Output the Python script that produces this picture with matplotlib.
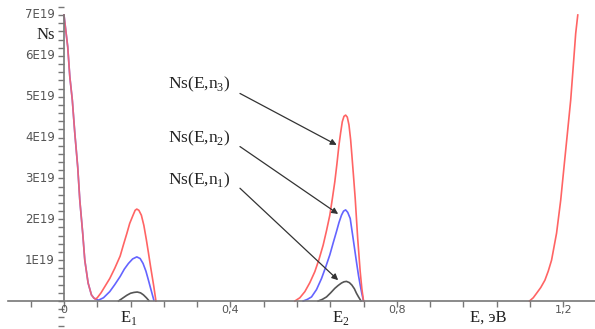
import numpy as np
import matplotlib.pyplot as plt
from matplotlib.ticker import MultipleLocator

# energies in eV, Ns in units of 1E19
left_x = [0.0, 0.009, 0.014, 0.020, 0.026, 0.033, 0.038, 0.045, 0.050, 0.058, 0.066, 0.072, 0.076]
left_y = [7.0, 6.22, 5.49, 4.92, 4.11, 3.28, 2.47, 1.66, 1.00, 0.44, 0.15, 0.07, 0.05]

red_e1_x = [0.076, 0.080, 0.089, 0.098, 0.110, 0.122, 0.135, 0.143, 0.151, 0.158, 0.166, 0.171,
            0.175, 0.180, 0.186, 0.192, 0.198, 0.203, 0.208, 0.212, 0.216, 0.221]
red_e1_y = [0.05, 0.08, 0.2, 0.35, 0.55, 0.8, 1.1, 1.38, 1.65, 1.9, 2.1, 2.22,
            2.25, 2.22, 2.1, 1.85, 1.5, 1.18, 0.85, 0.6, 0.35, 0.0]

blue_e1_x = [0.076, 0.083, 0.095, 0.110, 0.122, 0.135, 0.145, 0.155, 0.165, 0.175, 0.183,
             0.190, 0.197, 0.203, 0.208, 0.212, 0.216]
blue_e1_y = [0.05, 0.02, 0.08, 0.23, 0.40, 0.60, 0.78, 0.92, 1.03, 1.08, 1.04,
             0.92, 0.73, 0.51, 0.32, 0.17, 0.02]

black_e1_x = [0.131, 0.141, 0.151, 0.160, 0.168, 0.176, 0.184, 0.191, 0.198, 0.204]
black_e1_y = [0.0, 0.07, 0.14, 0.19, 0.21, 0.22, 0.20, 0.15, 0.08, 0.01]

red_e2_x = [0.555, 0.567, 0.579, 0.591, 0.603, 0.613, 0.623, 0.631, 0.639, 0.645, 0.651, 0.656,
            0.661, 0.665, 0.669, 0.673, 0.677, 0.681, 0.685, 0.689, 0.692, 0.696, 0.700, 0.706,
            0.712, 0.716, 0.720]
red_e2_y = [0.0, 0.08, 0.23, 0.45, 0.72, 1.02, 1.37, 1.72, 2.1, 2.5, 2.92, 3.35,
            3.82, 4.12, 4.39, 4.52, 4.55, 4.5, 4.31, 3.95, 3.57, 3.05, 2.51, 1.53,
            0.72, 0.3, 0.0]

blue_e2_x = [0.575, 0.585, 0.595, 0.607, 0.619, 0.629, 0.639, 0.647, 0.655, 0.661, 0.667,
             0.672, 0.677, 0.682, 0.688, 0.695, 0.703, 0.708, 0.712, 0.716, 0.720]
blue_e2_y = [0.0, 0.04, 0.1, 0.28, 0.55, 0.83, 1.13, 1.42, 1.7, 1.92, 2.1,
             2.2, 2.23, 2.17, 2.02, 1.53, 0.96, 0.62, 0.39, 0.18, 0.0]

black_e2_x = [0.611, 0.621, 0.631, 0.641, 0.651, 0.659, 0.667, 0.673, 0.679, 0.686, 0.692,
              0.698, 0.703, 0.708, 0.714]
black_e2_y = [0.0, 0.04, 0.1, 0.2, 0.31, 0.38, 0.44, 0.47, 0.48, 0.45, 0.39,
              0.3, 0.19, 0.1, 0.0]

right_x = [1.119, 1.128, 1.136, 1.146, 1.156, 1.164, 1.172, 1.184, 1.194, 1.202, 1.210,
           1.218, 1.224, 1.230, 1.235]
right_y = [0.0, 0.08, 0.19, 0.33, 0.51, 0.73, 1.0, 1.66, 2.47, 3.29, 4.1,
           4.92, 5.73, 6.55, 7.0]

x_tick_vals = [0, 0.4, 0.8, 1.2]
x_tick_labels = ["0", "0,4", "0,8", "1,2"]
y_tick_vals = [1, 2, 3, 4, 5, 6, 7]
y_tick_labels = [f"{v}E19" for v in y_tick_vals]

RED = '#ff6464'
BLUE = '#6464ff'
BLACK = '#555555'
serif = ['Liberation Serif', 'DejaVu Serif']
plt.rcParams['mathtext.fontset'] = 'custom'
plt.rcParams['mathtext.rm'] = 'Liberation Serif'

fig = plt.figure(figsize=(5.95, 3.29), dpi=100)
ax = fig.add_axes([0, 0, 1, 1])
ax.set_xlim(-0.1538, 1.2764)
ax.set_ylim(-0.685, 7.367)

lw = 1.2
ax.plot(left_x, left_y, color=BLUE, lw=lw)
ax.plot(left_x, left_y, color=RED, lw=lw, alpha=0.85)
ax.plot(black_e1_x, black_e1_y, color=BLACK, lw=lw)
ax.plot(blue_e1_x, blue_e1_y, color=BLUE, lw=lw)
ax.plot(red_e1_x, red_e1_y, color=RED, lw=lw)
ax.plot(black_e2_x, black_e2_y, color=BLACK, lw=lw)
ax.plot(blue_e2_x, blue_e2_y, color=BLUE, lw=lw)
ax.plot(red_e2_x, red_e2_y, color=RED, lw=lw)
ax.plot(right_x, right_y, color=RED, lw=lw)

for s in ['top', 'right']:
    ax.spines[s].set_visible(False)
ax.spines['left'].set_position(('data', 0))
ax.spines['bottom'].set_position(('data', 0))
ax.spines['left'].set_bounds(0, 7)
ax.spines['bottom'].set_bounds(-0.135, 1.2764)
for s in ['left', 'bottom']:
    ax.spines[s].set_color('#777777')
    ax.spines[s].set_linewidth(1.2)

ax.xaxis.set_major_locator(MultipleLocator(0.08))
ax.xaxis.set_major_formatter(plt.NullFormatter())
ax.tick_params(axis='x', which='major', direction='out', length=4, width=1, color='#777777')
ax.yaxis.set_major_locator(MultipleLocator(0.2))
ax.yaxis.set_major_formatter(plt.NullFormatter())
ax.tick_params(axis='y', which='major', direction='out', length=4, width=1, color='#777777')

for v, lab in zip(x_tick_vals, x_tick_labels):
    ax.text(v, -0.22, lab, ha='center', va='center', fontsize=8, color='#555555')
for v, lab in zip(y_tick_vals, y_tick_labels):
    ax.text(-0.022, v, lab, ha='right', va='center', fontsize=8.5, color='#555555')

ax.text(-0.022, 6.5, "Ns", ha='right', va='center', fontsize=12, family=serif, color='#222222')
ax.text(0.155, -0.42, "E$_1$", ha='center', va='center', fontsize=12, family=serif, color='#222222')
ax.text(0.665, -0.42, "E$_2$", ha='center', va='center', fontsize=12, family=serif, color='#222222')
ax.text(1.02, -0.40, "E, эВ", ha='center', va='center', fontsize=12, family=serif, color='#222222')

labels = ["Ns(E,n$_3$)", "Ns(E,n$_2$)", "Ns(E,n$_1$)"]
text_y = [5.29, 3.99, 2.96]
arrow_start = [(0.423, 5.08), (0.423, 3.78), (0.423, 2.76)]
arrow_end = [(0.6555, 3.82), (0.659, 2.13), (0.659, 0.51)]
for lab, ty, st, en in zip(labels, text_y, arrow_start, arrow_end):
    ax.text(0.25, ty, lab, ha='left', va='center', fontsize=12.5, family=serif, color='#222222')
    ax.annotate("", xy=en, xytext=st,
                arrowprops=dict(arrowstyle='-|>', color='#333333', lw=0.9,
                                mutation_scale=9, shrinkA=0, shrinkB=0))

fig.savefig('out.png', dpi=100)
